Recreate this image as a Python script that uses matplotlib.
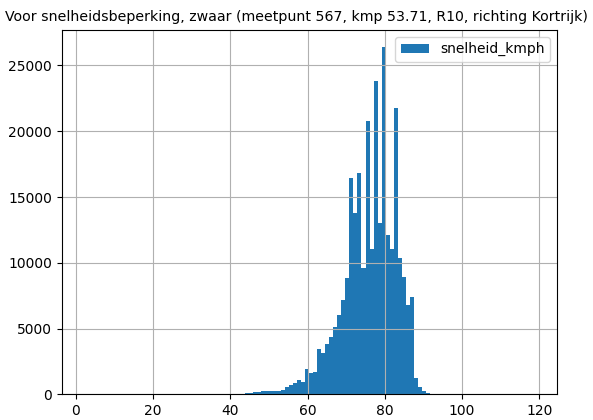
# snelheidsverdeling zware voertuigen, meetpunt 567
import numpy as np
import matplotlib
matplotlib.use('Agg')
import matplotlib.pyplot as plt

# histogram-bakken over het hele bereik van gemeten snelheden
speed_min = 2.2
speed_max = 118.7
n_bins = 112

# aantallen per bak, vanaf bak 38 (ca. 42 km/u) t/m bak 86
first_bin = 38
bin_counts = [40, 60, 80, 100, 150, 180, 290, 240, 240, 240,
              260, 310, 540, 720, 900, 1080, 920, 1900, 1640, 1720,
              3480, 3150, 3850, 4330, 5150, 6050, 7150, 8830, 16420, 13760,
              16860, 9600, 20780, 11060, 23810, 13050, 26390, 12100, 11030, 21740,
              10400, 8910, 6830, 7380, 1260, 580, 270, 100, 40]

edges = np.linspace(speed_min, speed_max, n_bins + 1)
centers = (edges[:-1] + edges[1:]) / 2
counts = np.zeros(n_bins)
counts[first_bin:first_bin + len(bin_counts)] = bin_counts

fig = plt.figure(figsize=(5.93, 4.2), dpi=100)
ax = fig.add_axes([0.104, 0.061, 0.835, 0.868])
ax.hist(centers, bins=edges, weights=counts, color='#1f77b4', label='snelheid_kmph')
ax.grid(True)
ax.legend(loc='upper right')
ax.set_title('Voor snelheidsbeperking, zwaar (meetpunt 567, kmp 53.71, R10, richting Kortrijk)',
             fontsize=10.2, x=0.475)

fig.savefig('out.png', dpi=100)
